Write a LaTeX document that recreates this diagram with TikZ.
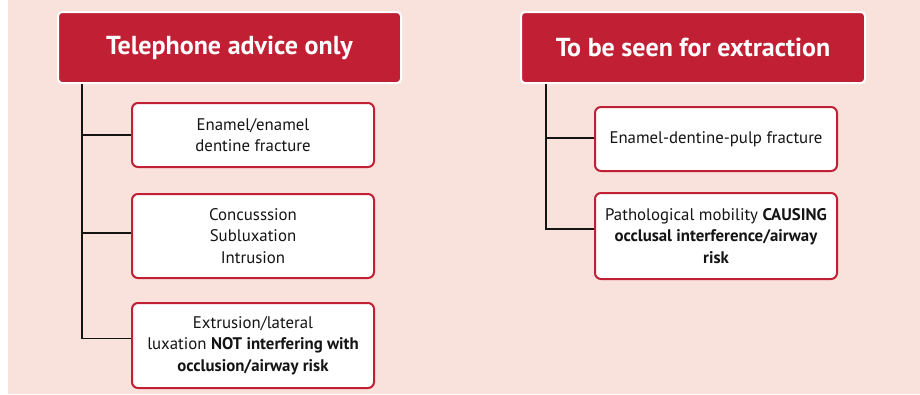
\documentclass[tikz,border=0pt]{standalone}
\usepackage{fontspec}
\setmainfont{PT Sans}
\definecolor{HeadClr}{RGB}{193,31,52}
\definecolor{BackClr}{RGB}{249,225,220}
\definecolor{LineClr}{RGB}{20,20,20}

\tikzset{
  head/.style={draw=white,line width=2pt,fill=HeadClr,rounded corners=4pt,
    text=white,font=\fontsize{26}{30}\selectfont\bfseries,
    minimum width=343pt,minimum height=71pt,inner sep=0pt},
  item/.style={draw=HeadClr,line width=2pt,fill=white,rounded corners=6pt,
    font=\fontsize{16.8}{21.5}\selectfont,align=center,text=LineClr,
    minimum width=242pt,inner sep=0pt},
  branch/.style={line width=1.5pt,color=LineClr}
}

\begin{document}
\begin{tikzpicture}[x=1pt,y=-1pt]
\useasboundingbox (0,0) rectangle (920,394);
\fill[white] (0,0) rectangle (920,394);
\fill[BackClr] (8,0) rectangle (920,394);

% left column
\node[head] (tel) at (229.5,47.5) {Telephone advice only};
\node[item,minimum height=64pt] (telA) at (253,135) {Enamel/enamel\\dentine fracture};
\node[item,minimum height=84pt] (telB) at (253,236) {Concusssion\\Subluxation\\Intrusion};
\node[item,minimum height=85pt] (telC) at (253,345.5) {Extrusion/lateral\\luxation \textbf{NOT interfering with}\\\textbf{occlusion/airway risk}};

% right column
\node[head,minimum width=344pt] (ext) at (693,47.5) {To be seen for extraction};
\node[item,minimum height=64pt] (extA) at (716,139) {Enamel-dentine-pulp fracture};
\node[item,minimum height=86pt] (extB) at (716,236) {Pathological mobility \textbf{CAUSING}\\\textbf{occlusal interference/airway}\\\textbf{risk}};

\coordinate (telRoot) at ([xshift=25pt]tel.south west);
\coordinate (extRoot) at ([xshift=26pt]ext.south west);

\draw[branch] (telRoot) |- (telA.west);
\draw[branch] (telRoot) |- ([yshift=3pt]telB.west);
\draw[branch] (telRoot) |- ([yshift=7pt]telC.west);
\draw[branch] (extRoot) |- ([yshift=1pt]extA.west);
\draw[branch] (extRoot) |- ([yshift=7pt]extB.west);

\end{tikzpicture}
\end{document}
